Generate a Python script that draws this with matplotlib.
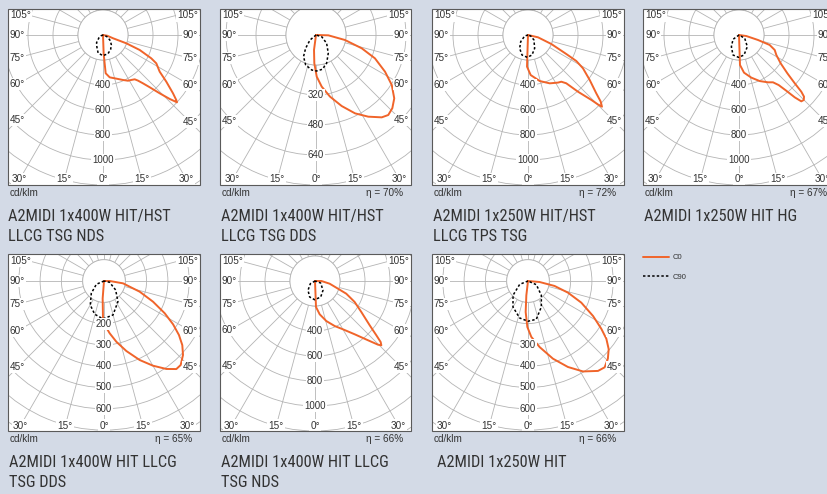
import numpy as np
import matplotlib
matplotlib.use("Agg")
import matplotlib.pyplot as plt
from matplotlib.patches import Rectangle

# ---------------- data ----------------
titles = [
    ["A2MIDI 1x400W HIT/HST", "LLCG TSG NDS"],
    ["A2MIDI 1x400W HIT/HST", "LLCG TSG DDS"],
    ["A2MIDI 1x250W HIT/HST", "LLCG TPS TSG"],
    ["A2MIDI 1x250W HIT HG"],
    ["A2MIDI 1x400W HIT LLCG", "TSG DDS"],
    ["A2MIDI 1x400W HIT LLCG", "TSG NDS"],
    ["A2MIDI 1x250W HIT"],
]
efficiency = [None, 70, 72, 67, 65, 66, 66]
ring_steps = [200, 160, 200, 200, 100, 200, 100]
ring_labels = [
    [400, 600, 800, 1000],
    [320, 480, 640],
    [400, 600, 800, 1000],
    [400, 600, 800, 1000],
    [200, 300, 400, 500, 600],
    [400, 600, 800, 1000],
    [300, 400, 500, 600],
]
angle_labels = [105, 90, 75, 60, 45, 30, 15, 0]
legend_labels = ["C0", "C90"]

# C0 plane (gamma in degrees, 0 = down, + = right ; intensity cd/klm)
p1_c0_gamma = [-90, 0, 2, 4, 9, 17, 24, 28.7, 32.2, 35.6, 37.5, 39.6, 41.8, 44.2, 46.2, 47.7,
               48.4, 50.2, 53.6, 57.1, 62, 64.2, 67.8, 70.4, 72, 80, 90]
p1_c0_cd = [0, 0, 150, 307, 343, 365, 394, 417, 425, 436, 460, 502, 561, 651, 739, 800,
            784, 729, 629, 540, 483, 429, 317, 198, 84, 35, 0]
p1_c90_gamma = [-90, -70, -55, -40, -27, -15, 0, 15, 28, 40, 52, 65, 80, 90]
p1_c90_cd = [0, 15, 40, 80, 108, 150, 165, 155, 130, 104, 75, 40, 12, 0]

p2_c0_gamma = [-90, -9, -7.6, -3.4, 1, 6.3, 12.8, 19.9, 26.5, 32.6, 38.6, 42.1, 46.2, 51,
               56.6, 62, 68.4, 73.8, 80.2, 88.5, 95]
p2_c0_cd = [0, 0, 80, 151, 222, 277, 337, 403, 467, 517, 562, 575, 564, 537,
            484, 417, 338, 254, 157, 66, 0]
p2_c90_gamma = [-90, -50, -38, -30, -19, -7, 1, 10.5, 20.6, 34, 52, 73, 90]
p2_c90_cd = [0, 42, 90, 133, 169, 188, 192, 186, 161, 117, 72, 32, 0]

p3_c0_gamma = [-90, -2, -1.8, 3.8, 14.3, 24.2, 32.2, 35.5, 38.4, 41.4, 44.3, 45.3, 45.9,
               47.5, 49.5, 53.9, 58.8, 61.7, 63.6, 68.9, 77, 90]
p3_c0_cd = [0, 0, 253, 321, 380, 424, 450, 459, 493, 605, 726, 796, 824,
            789, 718, 611, 514, 439, 342, 200, 82, 0]
p3_c90_gamma = [-90, -73, -47.6, -32, -16.7, -1.7, 11.3, 26.6, 50, 70, 90]
p3_c90_cd = [0, 28, 79, 126, 167, 179, 163, 119, 62, 23, 0]

p4_c0_gamma = [-90, -1, 1.9, 7.6, 16.1, 24.2, 31.5, 35.7, 38.4, 40.3, 41.8, 43.2, 44.9,
               46.5, 47.7, 49.1, 51.6, 55.8, 61.8, 67.2, 72, 75.3, 82, 90]
p4_c0_cd = [0, 0, 240, 304, 355, 404, 444, 466, 511, 584, 669, 728, 734,
            717, 674, 590, 494, 403, 339, 310, 258, 157, 59, 0]
p4_c90_gamma = [-90, -54, -33, -16.7, -1, 14, 35.4, 60, 90]
p4_c90_cd = [0, 59, 112, 167, 179, 165, 115, 53, 0]

p5_c0_gamma = [-90, -6, -4.4, -1.6, 2.1, 6.2, 11.5, 17.7, 24.3, 30, 35.3, 39.4, 42.4,
               46.9, 50.7, 54.2, 57.9, 62, 67.1, 73.3, 83, 90, 95]
p5_c0_cd = [0, 0, 82, 172, 214, 247, 291, 345, 407, 459, 506, 535, 534,
            508, 475, 434, 383, 323, 250, 175, 90, 27, 0]
p5_c90_gamma = [-90, -66.8, -45.9, -29.7, -15.6, -1.5, 14.8, 34, 52.4, 77, 90]
p5_c90_cd = [0, 39, 83, 130, 162, 178, 165, 117, 69, 27, 0]

p6_c0_gamma = [-90, 0, 2.2, 8, 15.8, 23.6, 30.1, 36.7, 41.8, 44.7, 45.9, 47.1, 48.5, 51,
               56.2, 62.1, 67.9, 71.5, 79.6, 90, 95]
p6_c0_cd = [0, 0, 208, 269, 333, 393, 447, 532, 636, 717, 739, 717, 655, 563,
            446, 359, 270, 194, 119, 51, 0]
p6_c90_gamma = [-90, -60, -37, -18.4, -1, 19.6, 40.7, 70.7, 90]
p6_c90_cd = [0, 43, 93, 135, 150, 136, 98, 48, 0]

p7_c0_gamma = [-90, -8, -6.6, -4.3, -0.8, 3.4, 10, 17.8, 24.9, 31.3, 37.9, 41.6, 45.8,
               49.8, 53.6, 56.9, 61.7, 67.9, 73.7, 79.4, 85, 92]
p7_c0_cd = [0, 0, 68, 146, 216, 263, 315, 383, 445, 497, 535, 542, 523,
            496, 457, 411, 347, 270, 196, 127, 55, 0]
p7_c90_gamma = [-90, -68, -46.4, -30, -12.7, 0, 12.2, 27.1, 43, 66, 90]
p7_c90_cd = [0, 42, 97, 141, 178, 189, 184, 137, 92, 43, 0]

c0_series = [(p1_c0_gamma, p1_c0_cd), (p2_c0_gamma, p2_c0_cd), (p3_c0_gamma, p3_c0_cd),
             (p4_c0_gamma, p4_c0_cd), (p5_c0_gamma, p5_c0_cd), (p6_c0_gamma, p6_c0_cd),
             (p7_c0_gamma, p7_c0_cd)]
c90_series = [(p1_c90_gamma, p1_c90_cd), (p2_c90_gamma, p2_c90_cd), (p3_c90_gamma, p3_c90_cd),
              (p4_c90_gamma, p4_c90_cd), (p5_c90_gamma, p5_c90_cd), (p6_c90_gamma, p6_c90_cd),
              (p7_c90_gamma, p7_c90_cd)]

# ---------------- layout / style ----------------
W, H = 827, 494
centers = [(103, 35), (316, 35), (528, 35), (739, 35), (104, 281), (315, 281), (528, 281)]
boxes = [(8, 9, 200, 185), (220, 9, 411, 185), (432, 9, 624, 185), (643, 9, 835, 185),
         (8, 254, 200, 431), (220, 254, 411, 431), (432, 254, 624, 431)]
px_per_cd = [0.125, 0.1875, 0.125, 0.125, 0.213, 0.125, 0.213]
title_dx = [0, 1, 1, 1, 1, 1, 5]

BG = "#d3dae6"
GRID = "#b4b4b4"
ORANGE = "#f0642a"
TXT = "#333333"
SMALL = ["Liberation Sans", "DejaVu Sans"]
NARROW = ["Roboto Condensed", "Liberation Sans Narrow", "Noto Sans", "Liberation Sans"]
plt.rcParams["font.family"] = SMALL

fig = plt.figure(figsize=(W / 100, H / 100), dpi=100)
fig.patch.set_facecolor(BG)


def fx(x):
    return x / W


def fy(y):
    return 1 - y / H


R = 190  # px radius of each polar axes (covers the clipping box)
legend_handles = None

for i in range(7):
    cx, cy = centers[i]
    x0, y0, x1, y1 = boxes[i]
    s = px_per_cd[i]
    step = ring_steps[i]

    fig.add_artist(Rectangle((fx(x0), fy(y1)), (x1 - x0) / W, (y1 - y0) / H,
                             transform=fig.transFigure, facecolor="white",
                             edgecolor="none", zorder=-1))
    fig.add_artist(Rectangle((fx(x0), fy(y1)), (x1 - x0) / W, (y1 - y0) / H,
                             transform=fig.transFigure, fill=False,
                             edgecolor="#5a5a5a", lw=0.8, zorder=10))
    clip = Rectangle((fx(x0), fy(y1)), (x1 - x0) / W, (y1 - y0) / H,
                     transform=fig.transFigure)

    ax = fig.add_axes([fx(cx - R), fy(cy + R), 2 * R / W, 2 * R / H], projection="polar")
    ax.set_theta_zero_location("S")
    ax.set_theta_direction(1)
    rmax = R / s
    ax.set_ylim(0, rmax)
    ax.set_xticks(np.deg2rad(np.arange(0, 360, 15)))
    ax.set_yticks(np.arange(step, rmax, step))
    ax.set_xticklabels([])
    ax.set_yticklabels([])
    ax.tick_params(length=0)
    ax.grid(True, color=GRID, lw=0.6)
    ax.spines["polar"].set_visible(False)
    ax.patch.set_visible(False)
    ax.xaxis.set_clip_path(clip)
    ax.yaxis.set_clip_path(clip)

    th = np.linspace(0, 2 * np.pi, 361)
    disc = ax.fill(th, np.full_like(th, step), facecolor="white", edgecolor=GRID,
                   lw=0.6, zorder=2)[0]
    disc.set_clip_path(clip)

    g0, v0 = c0_series[i]
    g9, v9 = c90_series[i]
    l0, = ax.plot(np.deg2rad(g0), v0, color=ORANGE, lw=1.4, zorder=3,
                  solid_joinstyle="round", solid_capstyle="round")
    l9, = ax.plot(np.deg2rad(g9), v9, color="black", lw=1.1, ls=(0, (1.6, 1.4)), zorder=3)
    l0.set_clip_path(clip)
    l9.set_clip_path(clip)
    if legend_handles is None:
        legend_handles = [l0, l9]

    for v in ring_labels[i]:
        ax.text(0, v, str(v), ha="center", va="center", fontsize=7, color=TXT, zorder=5,
                bbox=dict(boxstyle="square,pad=0.1", fc="white", ec="none"))

    # angle labels where each spoke meets the (inset) frame
    for ang in angle_labels:
        for side in ([-1, 1] if ang else [1]):
            dx = np.sin(np.deg2rad(ang))
            dy = np.cos(np.deg2rad(ang))
            lim_x = (cx - x0 - 10) if side < 0 else (x1 - cx - 10)
            lim_b = y1 - cy - 5.5
            t_side = lim_x / dx if dx > 1e-9 else np.inf
            t_bot = lim_b / dy if dy > 1e-9 else np.inf
            t = min(t_side, t_bot)
            px = cx + side * dx * t
            py = cy + dy * t
            if t_side <= t_bot:
                py = max(py, y0 + 6.5)
                tx = x0 + 2 if side < 0 else x1 - 2
                ha = "left" if side < 0 else "right"
            else:
                tx, ha = px, "center"
            fig.text(fx(tx), fy(py), f"{ang}°", ha=ha, va="center", fontsize=7.2,
                     color=TXT, zorder=6,
                     bbox=dict(boxstyle="square,pad=0.12", fc="white", ec="none"))

    fig.text(fx(x0 + 2), fy(y1 + 8), "cd/klm", ha="left", va="center", fontsize=7.2,
             color=TXT)
    if efficiency[i] is not None:
        fig.text(fx(x1 - 7.5), fy(y1 + 8), f"η = {efficiency[i]}%", ha="right",
                 va="center", fontsize=7.2, color=TXT)
    for k, line in enumerate(titles[i]):
        fig.text(fx(x0 + title_dx[i]), fy(y1 + 35.7 + 20.3 * k), line, ha="left",
                 va="baseline", fontsize=11.8, color=TXT, family=NARROW,
                 fontstretch="condensed")

fig.legend(handles=legend_handles, labels=legend_labels, loc="upper left",
           bbox_to_anchor=(fx(643), fy(254)), frameon=False, fontsize=5.5,
           handlelength=3.4, handletextpad=0.5, labelspacing=1.6, borderpad=0,
           borderaxespad=0, labelcolor=TXT)

fig.savefig("out.png", dpi=100, facecolor=BG)
